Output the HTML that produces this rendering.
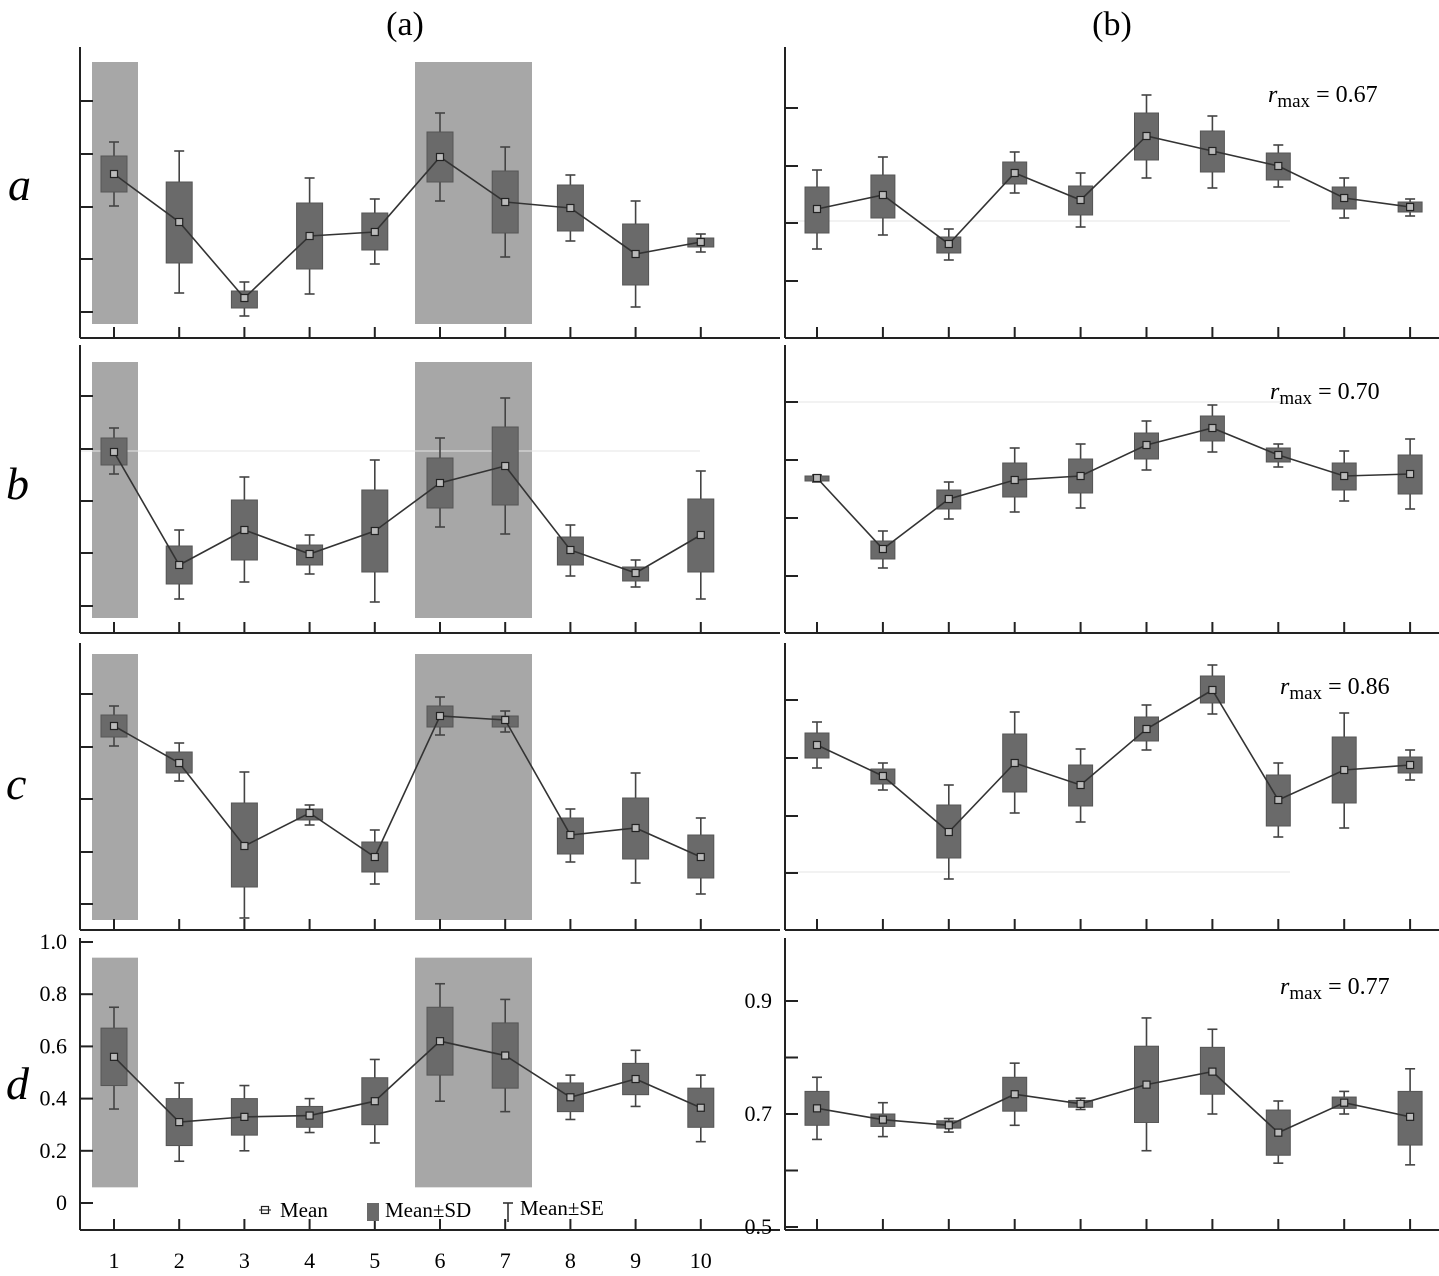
<!DOCTYPE html>
<html><head><meta charset="utf-8">
<style>
html,body{margin:0;padding:0;background:#fff;}
svg{display:block;font-family:"Liberation Serif",serif;}
</style></head>
<body>
<svg id="chart" width="1439" height="1276" viewBox="0 0 1439 1276" xmlns="http://www.w3.org/2000/svg">
<text x="405" y="35" font-size="34" text-anchor="middle">(a)</text>
<text x="1112" y="35" font-size="34" text-anchor="middle">(b)</text>
<text x="8" y="200" font-size="46" font-style="italic">a</text>
<text x="6" y="499" font-size="46" font-style="italic">b</text>
<text x="6" y="799" font-size="46" font-style="italic">c</text>
<text x="6" y="1099" font-size="46" font-style="italic">d</text>
<g id="g"></g>
</svg>
<script>
// categories
const categories = [1,2,3,4,5,6,7,8,9,10];
// Panel a (arbitrary units)
const aLeftMean = [164,116,40,102,106,181,136,130,84,96];
const aLeftSdLo = [146,75,30,69,88,156,105,107,53,91];
const aLeftSdHi = [182,156,47,135,125,206,167,153,114,100];
const aLeftSeLo = [132,45,22,44,74,137,81,97,31,86];
const aLeftSeHi = [196,187,56,160,139,225,191,163,137,104];
const aRightMean = [129,143,94,165,138,202,187,172,140,131];
const aRightSdLo = [105,120,85,154,123,178,166,158,129,126];
const aRightSdHi = [151,163,101,176,152,225,207,185,151,136];
const aRightSeLo = [89,103,78,145,111,160,150,151,120,122];
const aRightSeHi = [168,181,109,186,165,243,222,193,160,139];
// Panel b
const bLeftMean = [181,68,103,79,102,150,167,83,60,98];
const bLeftSdLo = [168,49,73,68,61,125,128,68,52,61];
const bLeftSdHi = [195,87,133,88,143,175,206,96,66,134];
const bLeftSeLo = [159,34,51,59,31,106,99,57,46,34];
const bLeftSeHi = [205,103,156,98,173,195,235,108,73,162];
const bRightMean = [155,84,134,153,157,188,205,178,157,159];
const bRightSdLo = [152,74,124,136,140,174,192,171,143,139];
const bRightSdHi = [157,92,143,170,174,200,217,185,170,178];
const bRightSeLo = [151,65,114,121,125,163,181,166,132,124];
const bRightSeHi = [158,102,151,185,189,212,228,189,182,194];
// Panel c
const cLeftMean = [204,167,84,117,73,214,210,95,102,73];
const cLeftSdLo = [193,157,43,110,58,203,203,76,71,52];
const cLeftSdHi = [215,178,127,121,88,224,214,112,132,95];
const cLeftSeLo = [184,149,12,105,46,195,198,68,47,36];
const cLeftSeHi = [224,187,158,125,100,233,219,121,157,112];
const cRightMean = [185,154,98,167,145,201,240,130,160,165];
const cRightSdLo = [172,146,72,138,124,189,227,104,127,157];
const cRightSdHi = [197,161,125,196,165,213,254,155,193,173];
const cRightSeLo = [162,140,51,117,108,180,216,93,102,150];
const cRightSeHi = [208,167,145,218,181,225,265,167,217,180];
// Panel d (real values)
const dLeftMean = [0.56,0.31,0.33,0.335,0.39,0.62,0.565,0.405,0.475,0.365];
const dLeftSdLo = [0.45,0.22,0.26,0.29,0.30,0.49,0.44,0.35,0.415,0.29];
const dLeftSdHi = [0.67,0.40,0.40,0.37,0.48,0.75,0.69,0.46,0.535,0.44];
const dLeftSeLo = [0.36,0.16,0.20,0.27,0.23,0.39,0.35,0.32,0.37,0.235];
const dLeftSeHi = [0.75,0.46,0.45,0.40,0.55,0.84,0.78,0.49,0.585,0.49];
const dRightMean = [0.71,0.69,0.68,0.735,0.718,0.752,0.775,0.667,0.72,0.695];
const dRightSdLo = [0.68,0.678,0.675,0.705,0.712,0.685,0.735,0.627,0.71,0.645];
const dRightSdHi = [0.74,0.70,0.688,0.765,0.724,0.82,0.818,0.707,0.73,0.74];
const dRightSeLo = [0.655,0.66,0.668,0.68,0.708,0.635,0.70,0.613,0.70,0.61];
const dRightSeHi = [0.765,0.72,0.692,0.79,0.728,0.87,0.85,0.723,0.74,0.78];
// tick values
const aLeftTicks = [26,79,131,184,237];
const aRightTicks = [57,115,172,230];
const bLeftTicks = [27,80,132,184,237];
const bRightTicks = [57,115,173,231];
const cLeftTicks = [26,78,131,183,236];
const cRightTicks = [57,114,172,230];
const dLeftTicks = [0,0.2,0.4,0.6,0.8,1.0];
const dLeftTickLabels = ["0","0.2","0.4","0.6","0.8","1.0"];
const dRightTicks = [0.5,0.6,0.7,0.8,0.9];
const dRightTickLabels = ["0.5","","0.7","","0.9"];
const rmaxLabels = ["0.67","0.70","0.86","0.77"];

const NS="http://www.w3.org/2000/svg";
const G=document.getElementById('g');
function mk(tag,attrs,parent){const e=document.createElementNS(NS,tag);for(const k in attrs)e.setAttribute(k,attrs[k]);(parent||G).appendChild(e);return e;}
function xLeft(i){return 114+i*65.2;}
function xRight(i){return 817+i*65.9;}

const rows=[
 {key:'a',top:47,bottom:338,shadeTop:276,shadeBot:14,
  L:{m:aLeftMean,sl:aLeftSdLo,sh:aLeftSdHi,el:aLeftSeLo,eh:aLeftSeHi,ticks:aLeftTicks,y:v=>338-v},
  R:{m:aRightMean,sl:aRightSdLo,sh:aRightSdHi,el:aRightSeLo,eh:aRightSeHi,ticks:aRightTicks,y:v=>338-v,grid:117},rmaxY:102,rmaxX:1268},
 {key:'b',top:345,bottom:633,shadeTop:271,shadeBot:15,gridL:182,
  L:{m:bLeftMean,sl:bLeftSdLo,sh:bLeftSdHi,el:bLeftSeLo,eh:bLeftSeHi,ticks:bLeftTicks,y:v=>633-v},
  R:{m:bRightMean,sl:bRightSdLo,sh:bRightSdHi,el:bRightSeLo,eh:bRightSeHi,ticks:bRightTicks,y:v=>633-v,grid:231},rmaxY:399,rmaxX:1270},
 {key:'c',top:643,bottom:930,shadeTop:276,shadeBot:10,
  L:{m:cLeftMean,sl:cLeftSdLo,sh:cLeftSdHi,el:cLeftSeLo,eh:cLeftSeHi,ticks:cLeftTicks,y:v=>930-v},
  R:{m:cRightMean,sl:cRightSdLo,sh:cRightSdHi,el:cRightSeLo,eh:cRightSeHi,ticks:cRightTicks,y:v=>930-v,grid:58},rmaxY:694,rmaxX:1280},
 {key:'d',top:938,bottom:1230,shadeTop:0.94,shadeBot:0.06,
  L:{m:dLeftMean,sl:dLeftSdLo,sh:dLeftSdHi,el:dLeftSeLo,eh:dLeftSeHi,ticks:dLeftTicks,labels:dLeftTickLabels,y:v=>1203-v*261},
  R:{m:dRightMean,sl:dRightSdLo,sh:dRightSdHi,el:dRightSeLo,eh:dRightSeHi,ticks:dRightTicks,labels:dRightTickLabels,y:v=>1227-(v-0.5)*565},rmaxY:994,rmaxX:1280}
];

rows.forEach((r,ri)=>{
  ['L','R'].forEach(side=>{
    const p=r[side];
    const ax=side==='L'?80:785;
    const xEnd=side==='L'?780:1439;
    const xf=side==='L'?xLeft:xRight;
    const bw=side==='L'?26:24;
    const grp=mk('g',{});
    
    
    if(side==='L'){
      [[92,138],[415,532]].forEach((s,si)=>{
        const y1=p.y(r.shadeTop), y2=p.y(r.shadeBot);
        const sh=mk('rect',{x:s[0],y:y1,width:s[1]-s[0],height:y2-y1,fill:'#a7a7a7'},grp);
        
        
      });
      if(r.gridL!==undefined) mk('line',{x1:ax,x2:xEnd-80,y1:p.y(r.gridL),y2:p.y(r.gridL),stroke:'#e4e4e4','stroke-width':1},grp);
    } else if(p.grid!==undefined){
      mk('line',{x1:ax,x2:1290,y1:p.y(p.grid),y2:p.y(p.grid),stroke:'#e4e4e4','stroke-width':1},grp);
    }
    const yax=mk('line',{x1:ax,x2:ax,y1:r.top,y2:r.bottom,stroke:'#222','stroke-width':2},grp);
    
    
    const xax=mk('line',{x1:ax,x2:xEnd,y1:r.bottom,y2:r.bottom,stroke:'#222','stroke-width':2},grp);
    
    
    p.ticks.forEach((t,ti)=>{
      const yy=p.y(t);
      const tk=mk('line',{x1:ax,x2:ax+13,y1:yy,y2:yy,stroke:'#222','stroke-width':2},grp);
      
      
      if(p.labels&&p.labels[ti]){
        const tl=mk('text',{x:ax-13,y:yy+7,'font-size':22,'text-anchor':'end'},grp);
        tl.textContent=p.labels[ti];
        
        
      }
    });
    categories.forEach((c,i)=>{
      const xx=xf(i);
      mk('line',{x1:xx,x2:xx,y1:r.bottom,y2:r.bottom-11,stroke:'#222','stroke-width':2},grp);
    });
    categories.forEach((c,i)=>{
      const xx=xf(i);
      const bg=mk('g',{},grp);
      
      
      const w1=p.y(p.eh[i]), w2=p.y(p.el[i]);
      mk('line',{x1:xx,x2:xx,y1:w1,y2:w2,stroke:'#444','stroke-width':1.6},bg);
      mk('line',{x1:xx-5,x2:xx+5,y1:w1,y2:w1,stroke:'#444','stroke-width':1.6},bg);
      mk('line',{x1:xx-5,x2:xx+5,y1:w2,y2:w2,stroke:'#444','stroke-width':1.6},bg);
      const b1=p.y(p.sh[i]), b2=p.y(p.sl[i]);
      mk('rect',{x:xx-bw/2,y:b1,width:bw,height:Math.max(2,b2-b1),fill:'#6a6a6a',stroke:'#555','stroke-width':1},bg);
    });
    const pts=categories.map((c,i)=>xf(i)+','+p.y(p.m[i])).join(' ');
    const ln=mk('polyline',{points:pts,fill:'none',stroke:'#333','stroke-width':1.6},grp);
    
    
    categories.forEach((c,i)=>{
      const mr=mk('rect',{x:xf(i)-3.5,y:p.y(p.m[i])-3.5,width:7,height:7,fill:'#bbb',stroke:'#222','stroke-width':1.2},grp);
      
      
    });
  });
  const t=mk('text',{x:r.rmaxX,y:r.rmaxY,'font-size':24});
  
  
  const ts1=mk('tspan',{'font-style':'italic'},t);ts1.textContent='r';
  const ts2=mk('tspan',{'font-size':19,dy:5},t);ts2.textContent='max';
  const ts3=mk('tspan',{dy:-5},t);ts3.textContent=' = '+rmaxLabels[ri];
});
categories.forEach((c,i)=>{
  const t=mk('text',{x:xLeft(i),y:1268,'font-size':22,'text-anchor':'middle'});
  t.textContent=c;
  
  
});
const lg=mk('g',{});


mk('line',{x1:259,x2:271,y1:1210,y2:1210,stroke:'#333','stroke-width':1.2},lg);
mk('rect',{x:261.5,y:1206.5,width:7,height:7,fill:'none',stroke:'#222','stroke-width':1.2},lg);
let lt=mk('text',{x:280,y:1217,'font-size':21},lg);lt.textContent='Mean';
mk('rect',{x:367,y:1203,width:12,height:18,fill:'#6a6a6a'},lg);
lt=mk('text',{x:385,y:1217,'font-size':21},lg);lt.textContent='Mean±SD';
mk('line',{x1:508,x2:508,y1:1203,y2:1222,stroke:'#333','stroke-width':1.6},lg);
mk('line',{x1:503,x2:513,y1:1203,y2:1203,stroke:'#333','stroke-width':1.6},lg);
lt=mk('text',{x:520,y:1215,'font-size':21},lg);lt.textContent='Mean±SE';
</script>
</body></html>
